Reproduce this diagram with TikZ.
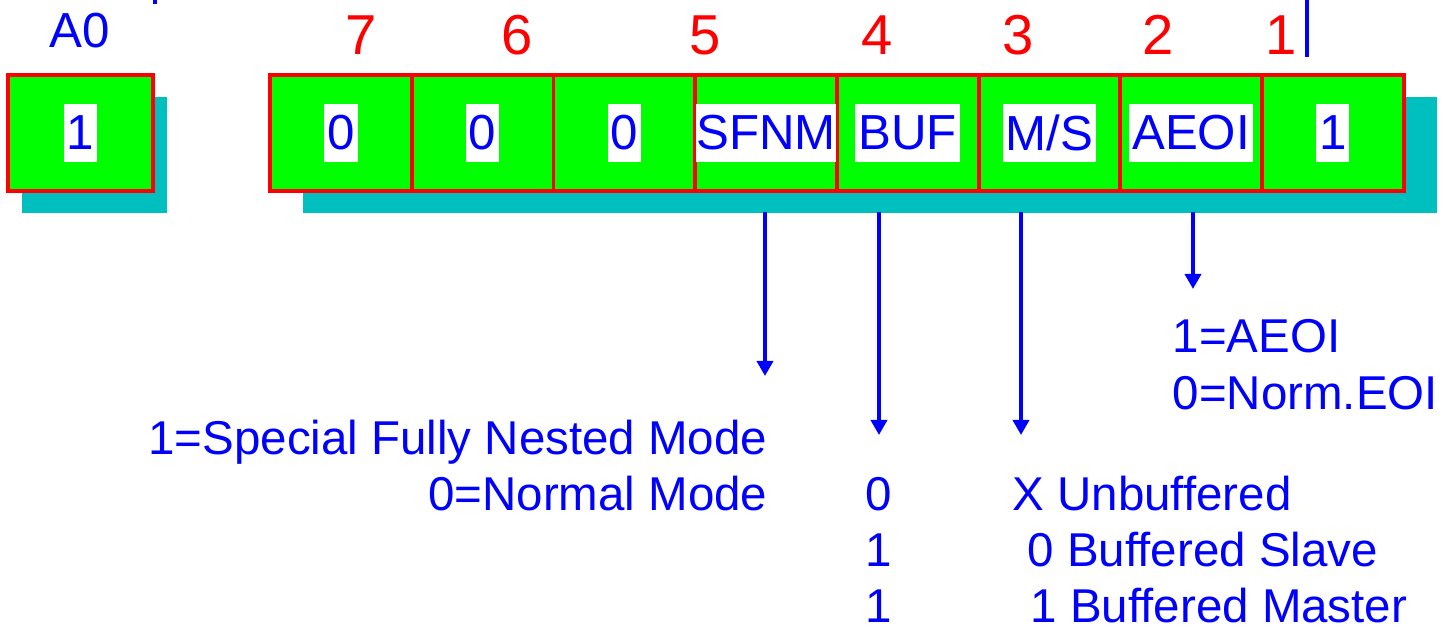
\documentclass[tikz,border=0pt]{standalone}
\usepackage{fontspec}
\setmainfont{Liberation Sans}
\usetikzlibrary{positioning,calc,arrows.meta,backgrounds}
\definecolor{icwgreen}{RGB}{0,255,0}
\definecolor{icwshade}{RGB}{0,191,191}
\tikzset{
  bitcell/.style={draw=red,line width=1.1pt,fill=icwgreen,minimum width=1.416cm,
    minimum height=1.16cm,inner sep=0pt,outer sep=0pt},
  bittag/.style={fill=white,text=blue,inner xsep=0.03cm,inner ysep=0pt,
    minimum height=0.58cm,font=\fontsize{14}{16}\selectfont},
  bitnum/.style={text=red,inner sep=0pt,anchor=base,font=\fontsize{16}{19}\selectfont},
  note/.style={text=blue,inner sep=0pt,font=\fontsize{13.5}{16}\selectfont},
  sel/.style={blue,line width=1pt,-{Triangle[width=0.16cm,length=0.15cm]}}
}

\begin{document}
\begin{tikzpicture}[x=0.01cm,y=-0.01cm]
  \useasboundingbox (0,0) rectangle (1453,628);
  % A0 byte
  \node[bitcell,minimum width=1.45cm] (a0) at (80.5,133) {};
  \node[bittag] (ta0) at (a0) {1};
  \node[note,anchor=base,font=\fontsize{14}{16}\selectfont] (la0) at (80,48) {A0};
  % ICW4 bits
  \node[bitcell] (b7) at (341,133) {};
  \node[bitcell,right=0pt of b7] (b6) {};
  \node[bitcell,right=0pt of b6] (b5) {};
  \node[bitcell,right=0pt of b5] (b4) {};
  \node[bitcell,right=0pt of b4] (b3) {};
  \node[bitcell,right=0pt of b3] (b2) {};
  \node[bitcell,right=0pt of b2] (b1) {};
  \node[bitcell,right=0pt of b1] (b0) {};
  \node[bittag] (t7) at (b7) {0};
  \node[bittag] (t6) at (b6) {0};
  \node[bittag] (t5) at (b5) {0};
  \node[bittag,inner xsep=0pt] (t4) at (b4) {SFNM};
  \node[bittag] (t3) at (b3) {BUF};
  \node[bittag] (t2) at (b2) {M/S};
  \node[bittag] (t1) at (b1) {AEOI};
  \node[bittag] (t0) at (b0) {1};
  \begin{scope}[on background layer]
    \fill[icwshade] ($(a0.north west)+(14,22)$) rectangle ($(a0.south east)+(14,22)$);
    \fill[icwshade] ($(b7.north west)+(33,22)$) rectangle ($(b0.south east)+(33,22)$);
  \end{scope}
  % bit numbers
  \node[bitnum] (n7) at (361,55) {7};
  \node[bitnum] (n6) at (517,55) {6};
  \node[bitnum] (n5) at (705,55) {5};
  \node[bitnum] (n4) at (877,55) {4};
  \node[bitnum] (n3) at (1018,55) {3};
  \node[bitnum] (n2) at (1158,55) {2};
  \node[bitnum] (n1) at (1281,55) {1};
  \draw[blue,line width=1pt] (1307,0) -- (1307,57);
  \draw[blue,line width=1pt] (155,0) -- (155,4);
  % meanings
  \node[note,anchor=base east] (sfnm1) at (768,455) {1=Special Fully Nested Mode};
  \node[note,anchor=base east] (sfnm0) at (768,511) {0=Normal Mode};
  \node[note,anchor=base] (buf0) at (879,511) {0};
  \node[note,anchor=base] (buf1) at (879,567) {1};
  \node[note,anchor=base] (buf2) at (879,623) {1};
  \node[note,anchor=base west] (ms0) at (1012,511) {X Unbuffered};
  \node[note,anchor=base west] (ms1) at (1027,567) {0 Buffered Slave};
  \node[note,anchor=base west] (ms2) at (1030,623) {1 Buffered Master};
  \node[note,anchor=base west] (aeoi1) at (1172,353) {1=AEOI};
  \node[note,anchor=base west] (aeoi0) at (1172,410) {0=Norm.EOI};
  % arrows
  \coordinate (s4) at (765,212);
  \coordinate (e4) at (765,376);
  \coordinate (s3) at (879,212);
  \coordinate (e3) at (879,435);
  \coordinate (s2) at (1021,212);
  \coordinate (e2) at (1021,435);
  \coordinate (s1) at (1193,212);
  \coordinate (e1) at (1193,289);
  \draw[sel] (s4) -- (e4);
  \draw[sel] (s3) -- (e3);
  \draw[sel] (s2) -- (e2);
  \draw[sel] (s1) -- (e1);
\end{tikzpicture}
\end{document}
